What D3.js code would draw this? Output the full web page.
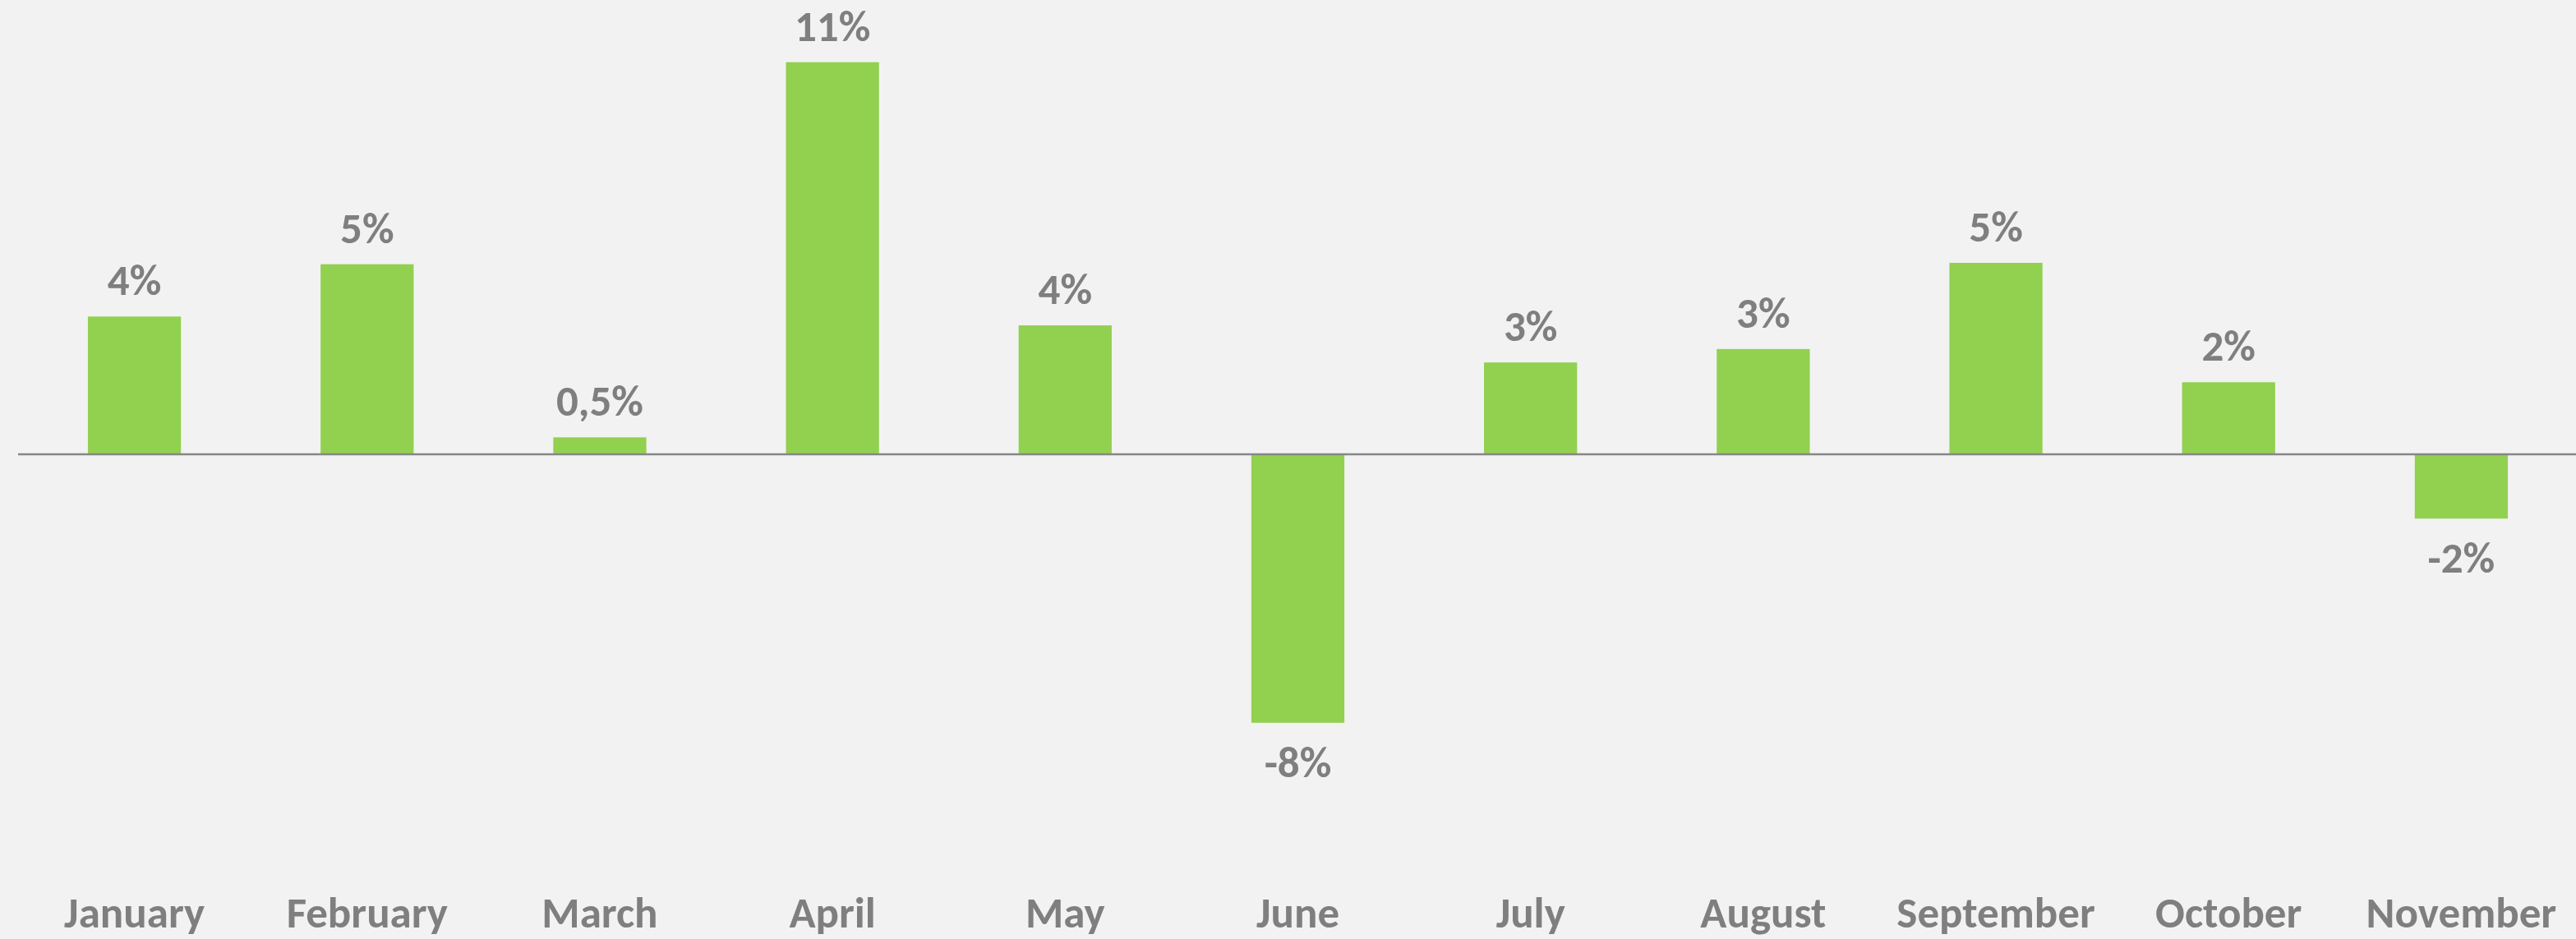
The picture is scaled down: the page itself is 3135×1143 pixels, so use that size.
<!DOCTYPE html>
<html>
<head>
<meta charset="utf-8">
<script src="https://cdn.jsdelivr.net/npm/d3@7"></script>
<style>
  body { margin: 0; background: #f2f2f2; }
  svg { display: block; }
  text { font-family: Carlito, 'Liberation Sans Narrow', 'Open Sans', sans-serif; font-weight: bold; fill: #7f7f7f; }
</style>
</head>
<body>
<div id="chart"></div>
<script>
const months = ['January', 'February', 'March', 'April', 'May', 'June', 'July', 'August', 'September', 'October', 'November'];
const values = [3.9, 5.38, 0.48, 11.1, 3.65, -7.6, 2.6, 2.98, 5.42, 2.04, -1.82];
const valueLabels = ['4%', '5%', '0,5%', '11%', '4%', '-8%', '3%', '3%', '5%', '2%', '-2%'];

const width = 3135;
const height = 1143;
const margin = { top: 37, right: -2, bottom: 160, left: 22 };

const svg = d3.select('#chart').append('svg')
  .attr('width', width)
  .attr('height', height);

svg.append('rect').attr('width', width).attr('height', height).attr('fill', '#f2f2f2');

const x = d3.scaleBand()
  .domain(months)
  .range([margin.left, width - margin.right])
  .paddingInner(0.6)
  .paddingOuter(0.3);

const y = d3.scaleLinear()
  .domain([-10, 12])
  .range([height - margin.bottom, margin.top]);

// bars
svg.selectAll('rect.bar')
  .data(values)
  .enter().append('rect')
  .attr('class', 'bar')
  .attr('fill', '#92d050')
  .attr('x', (d, i) => x(months[i]))
  .attr('width', x.bandwidth())
  .attr('y', d => y(Math.max(0, d)))
  .attr('height', d => Math.abs(y(d) - y(0)));

// zero line
svg.append('line')
  .attr('x1', margin.left)
  .attr('x2', width)
  .attr('y1', y(0))
  .attr('y2', y(0))
  .attr('stroke', '#868686')
  .attr('stroke-width', 2.5);

// value labels
svg.selectAll('text.val')
  .data(values)
  .enter().append('text')
  .attr('class', 'val')
  .attr('text-anchor', 'middle')
  .style('font-size', '53px')
  .attr('x', (d, i) => x(months[i]) + x.bandwidth() / 2)
  .attr('y', d => d >= 0 ? y(d) - 26 : y(d) + 66)
  .text((d, i) => valueLabels[i]);

// category axis at the bottom
const xAxis = d3.axisBottom(x).tickSize(0).tickPadding(0);
const axisG = svg.append('g')
  .attr('transform', `translate(0,${1091})`)
  .call(xAxis);
axisG.select('.domain').remove();
axisG.selectAll('text')
  .style('font-size', '53px')
  .attr('fill', '#7f7f7f')
  .attr('dy', '0.71em');
</script>
</body>
</html>
